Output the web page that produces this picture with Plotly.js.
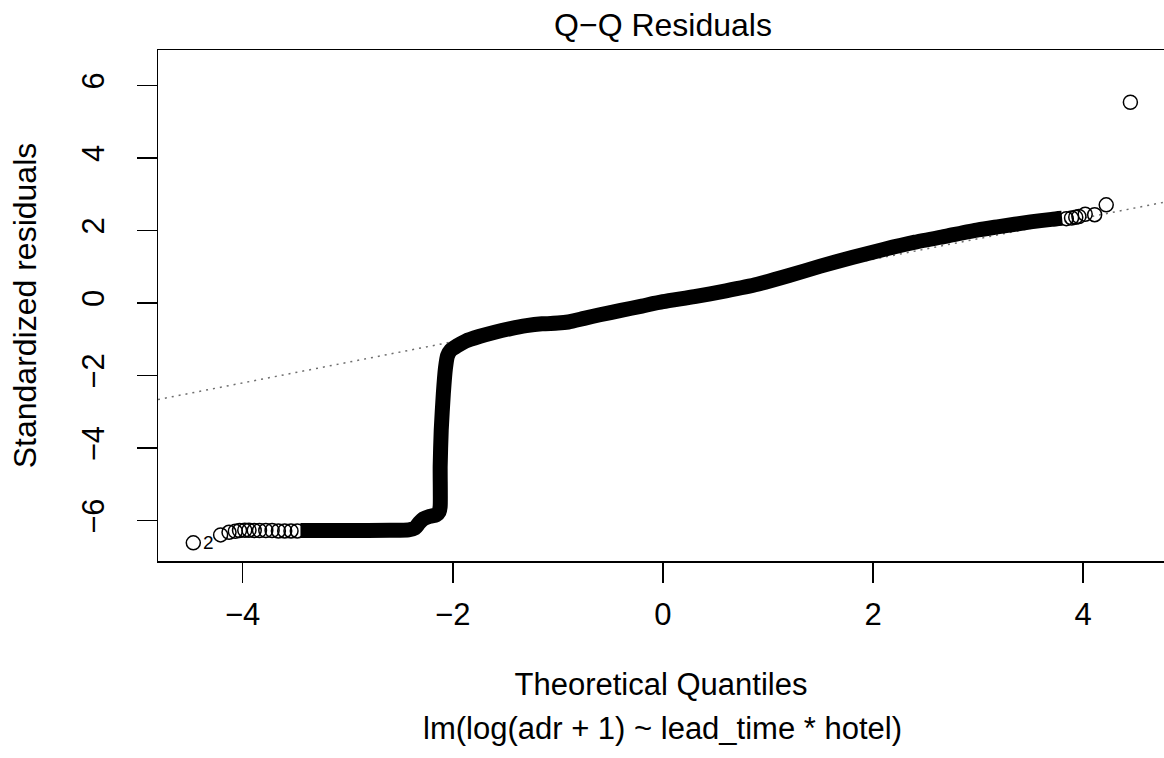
<!DOCTYPE html>
<html>
<head>
<meta charset="utf-8">
<script src="https://cdn.plot.ly/plotly-3.0.1.min.js"></script>
<style>html,body{margin:0;padding:0;background:#fff;}#chart{width:1164px;height:758px;}</style>
</head>
<body>
<div id="chart"></div>
<script>
// Left tail: individual points (theoretical quantile, standardized residual)
const tailLeftX = [-4.47, -4.21, -4.13, -4.07, -4.03, -3.98, -3.94, -3.89, -3.84, -3.78, -3.72, -3.66, -3.60, -3.54, -3.48];
const tailLeftY = [-6.61, -6.39, -6.32, -6.29, -6.27, -6.26, -6.26, -6.27, -6.27, -6.27, -6.27, -6.28, -6.28, -6.28, -6.28];

// Dense body of the distribution (points overlap into a solid band)
const bodyX = [-3.45, -3.0, -2.6, -2.42, -2.36, -2.32, -2.28, -2.22, -2.16, -2.13, -2.12, -2.12, -2.11, -2.09, -2.07, -2.05, -2.02, -1.96, -1.88, -1.75, -1.60, -1.45, -1.30, -1.15, -1.00, -0.90, -0.75, -0.60, -0.40, -0.20, 0.00, 0.30, 0.60, 0.90, 1.20, 1.50, 1.80, 2.10, 2.40, 2.70, 3.00, 3.20, 3.50, 3.70, 3.80];
const bodyY = [-6.27, -6.27, -6.26, -6.25, -6.20, -6.06, -5.95, -5.88, -5.84, -5.75, -5.60, -4.50, -3.50, -2.50, -1.80, -1.45, -1.30, -1.18, -1.05, -0.92, -0.80, -0.70, -0.62, -0.57, -0.55, -0.52, -0.42, -0.32, -0.20, -0.08, 0.04, 0.18, 0.34, 0.52, 0.76, 1.02, 1.26, 1.48, 1.68, 1.85, 2.02, 2.11, 2.24, 2.31, 2.34];

// Right tail: individual points
const tailRightX = [3.84, 3.89, 3.93, 3.96, 4.02, 4.11, 4.22, 4.45];
const tailRightY = [2.33, 2.35, 2.37, 2.39, 2.45, 2.44, 2.71, 5.54];

// Reference line (qqline): intercept and slope
const qqIntercept = 0.072;
const qqSlope = 0.568;

// Labelled observation
const idLabel = "2";
const idX = -4.47, idY = -6.61;

const xTicks = [-4, -2, 0, 2, 4];
const yTicks = [-6, -4, -2, 0, 2, 4, 6];
const xRange = [-4.806, 4.77];
const yRange = [-7.11, 6.98];

const FONT = "Liberation Sans, Arial, Helvetica, sans-serif";
const FS = 31;

const circleMarker = {symbol: "circle-open", size: 14, color: "#000", line: {width: 1.5, color: "#000"}};

const traces = [
  {x: xRange, y: xRange.map(v => qqIntercept + qqSlope * v), mode: "lines",
   line: {color: "#6e6e6e", width: 1.5, dash: "2px,5px"}, hoverinfo: "skip", showlegend: false},
  {x: bodyX, y: bodyY, mode: "lines", line: {color: "#000", width: 15, shape: "spline", smoothing: 0.6},
   showlegend: false},
  {x: tailLeftX, y: tailLeftY, mode: "markers", marker: circleMarker, showlegend: false},
  {x: tailRightX, y: tailRightY, mode: "markers", marker: circleMarker, showlegend: false}
];

const axisCommon = {
  showline: true, mirror: true, linecolor: "#000", linewidth: 1.5,
  ticks: "outside", ticklen: 20, tickwidth: 1.5, tickcolor: "#000",
  showgrid: false, zeroline: false,
  tickfont: {family: FONT, size: FS, color: "#000"}
};

const layout = {
  width: 1164, height: 758,
  margin: {l: 158, r: 0, t: 50, b: 197, pad: 0},
  paper_bgcolor: "#fff", plot_bgcolor: "#fff",
  font: {family: FONT, size: FS, color: "#000"},
  showlegend: false,
  title: {text: "Q\u2212Q Residuals", font: {family: FONT, size: 32, color: "#000"},
          x: 0.5696, xref: "container", xanchor: "center", y: 0.967, yref: "container", yanchor: "middle"},
  xaxis: Object.assign({}, axisCommon, {
    range: xRange, tickmode: "array", tickvals: xTicks, ticklabelstandoff: 5,
    title: {text: "Theoretical Quantiles", font: {family: FONT, size: FS, color: "#000"}, standoff: 42}
  }),
  yaxis: Object.assign({}, axisCommon, {
    range: yRange, tickmode: "array", tickvals: yTicks, tickangle: -90, ticklabelstandoff: 20,
    title: {text: "Standardized residuals", font: {family: FONT, size: 32, color: "#000"}, standoff: 30}
  }),
  annotations: [
    {text: "lm(log(adr + 1) ~ lead_time * hotel)", xref: "x", x: 0, yref: "paper", y: -0.327,
     xanchor: "center", yanchor: "middle", showarrow: false, font: {family: FONT, size: FS, color: "#000"}},
    {text: idLabel, xref: "x", x: idX, yref: "y", y: idY, xanchor: "left", yanchor: "middle",
     xshift: 8, showarrow: false, font: {family: FONT, size: 19, color: "#000"}}
  ]
};

Plotly.newPlot("chart", traces, layout, {displayModeBar: false, staticPlot: true});
</script>
</body>
</html>
